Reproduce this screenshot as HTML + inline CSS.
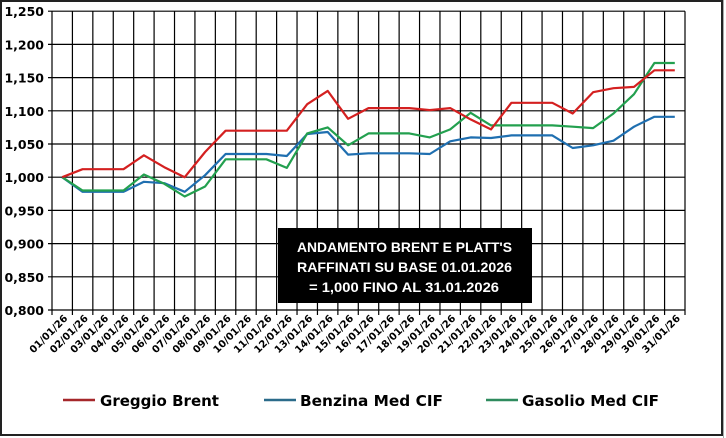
<!DOCTYPE html>
<html><head><meta charset="utf-8"><style>
html,body{margin:0;padding:0;background:#fff;}
svg{display:block;}
</style></head><body>
<svg width="726" height="438" xmlns="http://www.w3.org/2000/svg">
<rect x="0" y="0" width="726" height="438" fill="#fff"/>
<rect x="1" y="1" width="721" height="434" fill="none" stroke="#222" stroke-width="2"/>
<line x1="723.5" y1="0" x2="723.5" y2="438" stroke="#aaa" stroke-width="1"/>
<g id="grid" stroke="#000" stroke-width="1.2"></g>
<g id="ylab" font-family="'DejaVu Sans',sans-serif" font-weight="bold" font-size="12.5" fill="#000" text-anchor="end"></g>
<g id="xlab" font-family="'DejaVu Sans',sans-serif" font-weight="bold" font-size="10" fill="#000" text-anchor="end"></g>
<g id="series" fill="none" stroke-width="2.2" stroke-linejoin="round"></g>
<rect x="278" y="228" width="254" height="75" fill="#000"/>
<g font-family="'Liberation Sans',sans-serif" font-weight="bold" font-size="14" fill="#fff">
<text x="297" y="252" textLength="215" lengthAdjust="spacingAndGlyphs">ANDAMENTO BRENT E PLATT'S</text>
<text x="297" y="272" textLength="215" lengthAdjust="spacingAndGlyphs">RAFFINATI SU BASE 01.01.2026</text>
<text x="309" y="292" textLength="190" lengthAdjust="spacingAndGlyphs">= 1,000 FINO AL 31.01.2026</text>
</g>
<g font-family="'DejaVu Sans',sans-serif" font-weight="bold" font-size="15" fill="#000">
<line x1="63" y1="400" x2="95" y2="400" stroke="#a5272a" stroke-width="2.5"/>
<text x="100" y="406" textLength="119" lengthAdjust="spacingAndGlyphs">Greggio Brent</text>
<line x1="264" y1="400" x2="296" y2="400" stroke="#2b6b8a" stroke-width="2.5"/>
<text x="300" y="406" textLength="143" lengthAdjust="spacingAndGlyphs">Benzina Med CIF</text>
<line x1="486" y1="400" x2="518" y2="400" stroke="#2e8b5e" stroke-width="2.5"/>
<text x="522" y="406" textLength="137" lengthAdjust="spacingAndGlyphs">Gasolio Med CIF</text>
</g>
</svg>
<script>
(function(){
var ns="http://www.w3.org/2000/svg";
function el(p,t,a,txt){var e=document.createElementNS(ns,t);for(var k in a)e.setAttribute(k,a[k]);if(txt!==undefined)e.textContent=txt;p.appendChild(e);return e;}
var X0=52,X1=685,N=31,W=(X1-X0)/N,Y0=310,PER=33.2/0.05;
function Y(v){return Y0-(v-0.8)*PER;}
var g=document.getElementById('grid'),yl=document.getElementById('ylab'),xl=document.getElementById('xlab'),s=document.getElementById('series');
for(var i=0;i<=9;i++){var v=0.8+i*0.05,y=Y(v);el(g,'line',{x1:X0-4,y1:y,x2:X1,y2:y});
el(yl,'text',{x:44,y:y+5},v.toFixed(3).replace('.',','));}
for(var i=0;i<=N;i++){var x=X0+i*W;el(g,'line',{x1:x,y1:Y(1.25),x2:x,y2:Y0+5});}
for(var i=0;i<N;i++){var x=X0+(i+0.5)*W+6,y=Y0+9;var d=('0'+(i+1)).slice(-2)+'/01/26';
el(xl,'text',{x:x,y:y,transform:'rotate(-45 '+x+' '+y+')'},d);}
var brent=[1.000,1.012,1.012,1.012,1.033,1.015,1.000,1.038,1.070,1.070,1.070,1.070,1.110,1.130,1.088,1.104,1.104,1.104,1.101,1.104,1.087,1.072,1.112,1.112,1.112,1.096,1.128,1.134,1.136,1.161,1.161];
var benz=[1.000,0.978,0.978,0.978,0.993,0.991,0.978,1.003,1.035,1.035,1.035,1.032,1.065,1.068,1.034,1.036,1.036,1.036,1.035,1.054,1.060,1.059,1.063,1.063,1.063,1.044,1.048,1.055,1.076,1.091,1.091];
var gas=[1.000,0.980,0.980,0.980,1.004,0.990,0.971,0.986,1.027,1.027,1.027,1.014,1.066,1.075,1.048,1.066,1.066,1.066,1.060,1.072,1.097,1.078,1.078,1.078,1.078,1.076,1.074,1.096,1.125,1.172,1.172];
function pl(d,c){var p=d.map(function(v,i){return (X0+(i+0.5)*W).toFixed(1)+','+Y(v).toFixed(1);}).join(' ');el(s,'polyline',{points:p,stroke:c});}
pl(benz,'#1f6fb0');pl(gas,'#23a04f');pl(brent,'#d42020');
})();
</script>
</body></html>
